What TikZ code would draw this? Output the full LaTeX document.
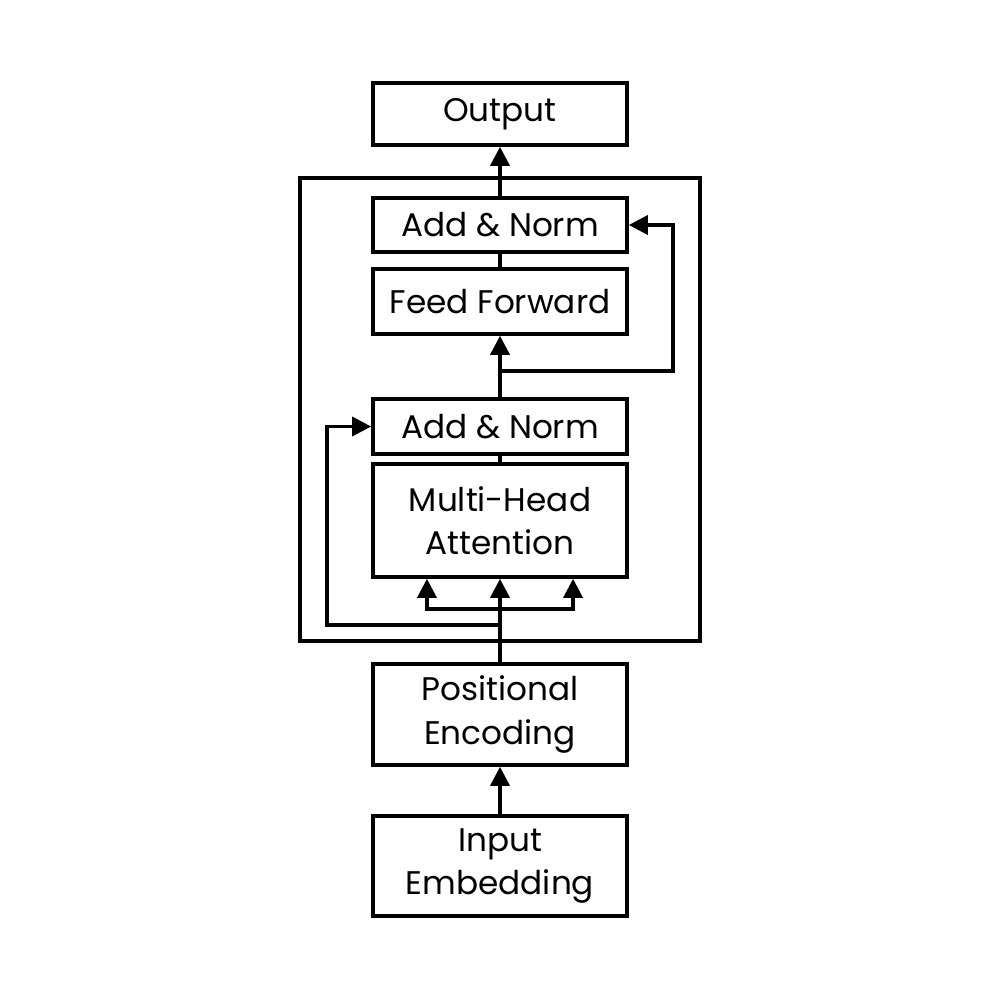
\documentclass[tikz,border=0pt]{standalone}
\usepackage{fontspec}
\setmainfont{Poppins}
\usetikzlibrary{arrows.meta}
\begin{document}
\begin{tikzpicture}[x=0.01cm,y=-0.01cm,
  ln/.style={line width=1pt},
  box/.style={draw,ln,minimum width=2.54cm,inner sep=0pt,align=center,
    font=\fontsize{9.3}{12.3}\selectfont},
  arr/.style={ln,-{Triangle[length=5.4pt,width=5.4pt]}}]
\useasboundingbox (0,0) rectangle (1000,1000);
\draw[ln] (300,178) rectangle (700,641);
\node[box,minimum height=0.62cm] (out) at (500,114) {Output};
\node[box,minimum height=0.54cm] (an2) at (500,225) {Add \& Norm};
\node[box,minimum height=0.65cm] (ff) at (500,301.5) {Feed Forward};
\node[box,minimum height=0.55cm] (an1) at (500,426.5) {Add \& Norm};
\node[box,minimum height=1.13cm] (mha) at (500,520.5) {Multi-Head\\Attention};
\node[box,minimum height=1.01cm] (pe) at (500,714.5) {Positional\\Encoding};
\node[box,minimum height=1.00cm] (ie) at (500,866) {Input\\Embedding};
% main flow
\draw[arr] (ie) -- (pe);
\draw[arr] (an2) -- (out);
\draw[ln] (an2) -- (ff);
\draw[arr] (an1) -- (ff);
\draw[ln] (mha) -- (an1);
\draw[arr] (pe.north) -- (mha.south);
% branches to attention
\coordinate (br) at (500,609);
\draw[arr] (br) -| ([xshift=-0.73cm]mha.south);
\draw[arr] (br) -| ([xshift=0.73cm]mha.south);
% residuals
\coordinate (r1) at (500,625);
\draw[arr] (r1) -- (327,625) |- (an1.west);
\coordinate (r2) at (500,371);
\draw[arr] (r2) -- (673,371) |- (an2.east);
\end{tikzpicture}
\end{document}
